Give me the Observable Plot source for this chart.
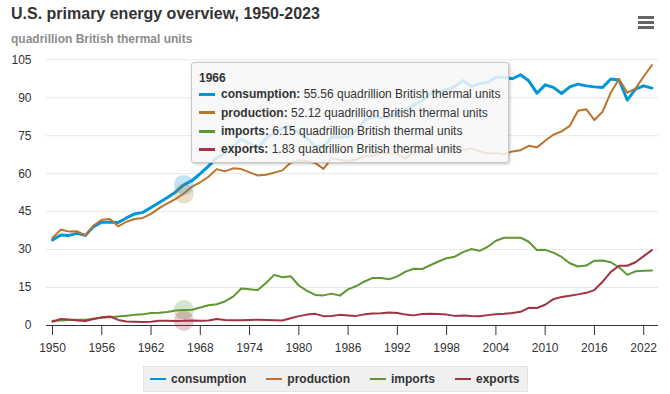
<!DOCTYPE html>
<html>
<head>
<meta charset="utf-8">
<script src="https://cdn.jsdelivr.net/npm/d3@7"></script>
<script src="https://cdn.jsdelivr.net/npm/@observablehq/plot@0.6"></script>
<style>
  body { margin: 0; background: #fff; }
  #wrap { position: relative; width: 670px; height: 394px; overflow: hidden; font-family: "Liberation Sans", Arial, sans-serif; color: #333; }
  #title { position: absolute; left: 11px; top: 5.5px; font-size: 16px; line-height: 16px; font-weight: bold; color: #333; white-space: nowrap; }
  #subtitle { position: absolute; left: 11px; top: 33px; font-size: 12px; line-height: 12px; font-weight: bold; color: #8c8c8c; white-space: nowrap; }
  #chart { position: absolute; left: 0; top: 50px; }
  #menu { position: absolute; left: 638px; top: 16px; width: 16px; }
  #menu div { height: 2.6px; background: #666; margin-bottom: 2.6px; }
  #legend { position: absolute; left: 143px; top: 366px; height: 26px; box-sizing: border-box; background: #f0f0f0; border: 1px solid #e4e4e4; display: flex; align-items: center; padding: 0 8px 0 6px; font-size: 12px; font-weight: bold; color: #333; white-space: nowrap; }
  .item { display: flex; align-items: center; margin-right: 20px; }
  .item:last-child { margin-right: 0; }
  .sw { width: 16px; height: 2px; margin-right: 5px; }
  #tooltip { position: absolute; left: 191px; top: 62px; width: 318px; height: 101px; box-sizing: border-box; background: rgba(247,247,247,0.85); border: 1px solid #c9c9c9; border-radius: 3px; box-shadow: 1px 1px 3px rgba(0,0,0,0.25); font-size: 12px; color: #333; }
  .tl { position: absolute; left: 7px; line-height: 18px; white-space: nowrap; display: flex; align-items: center; }
  .tsw { width: 16px; height: 3px; margin-right: 6px; }
</style>
</head>
<body>
<div id="wrap">
  <div id="title"></div>
  <div id="subtitle"></div>
  <div id="menu"><div></div><div></div><div></div></div>
  <div id="chart"></div>
  <div id="legend"></div>
  <div id="tooltip"></div>
</div>
<script>
const titleText = "U.S. primary energy overview, 1950-2023";
const unitText = "quadrillion British thermal units";

const years = d3.range(1950, 2024);
const seriesNames = ["consumption", "production", "imports", "exports"];
const seriesColors = ["#0096d7", "#bd732a", "#5d9732", "#a33340"];
const seriesWidths = [3, 2, 2, 2];

const consumption = [33.8, 35.8, 35.6, 36.4, 35.6, 39.1, 40.8, 40.8, 40.7, 42.5,
  44.1, 44.7, 46.6, 48.6, 50.6, 52.8, 55.56, 57.3, 60.0, 63.0,
  66.3, 68.0, 71.0, 73.7, 72.0, 70.0, 74.0, 76.2, 77.9, 78.8,
  76.0, 74.0, 70.8, 70.5, 74.5, 74.4, 74.6, 77.3, 81.0, 82.7,
  82.2, 82.3, 83.8, 85.3, 87.1, 88.8, 91.6, 92.2, 93.0, 94.5,
  96.8, 94.5, 95.6, 96.0, 98.1, 98.1, 97.5, 99.1, 96.7, 91.8,
  95.1, 94.1, 91.7, 94.3, 95.4, 94.7, 94.3, 94.1, 97.4, 97.0,
  89.1, 93.4, 94.7, 93.8];
const production = [34.6, 37.9, 37.1, 37.2, 35.6, 39.5, 41.8, 42.1, 39.2, 41.0,
  42.1, 42.5, 44.1, 46.4, 48.3, 50.0, 52.12, 54.9, 56.6, 58.8,
  61.8, 60.9, 62.1, 61.8, 60.5, 59.3, 59.6, 60.4, 61.3, 64.3,
  65.3, 65.0, 64.2, 61.9, 66.1, 65.5, 65.1, 65.6, 67.0, 67.0,
  68.4, 68.1, 67.8, 66.1, 68.6, 68.8, 69.9, 69.8, 70.5, 69.4,
  69.4, 70.0, 68.8, 68.0, 68.2, 67.6, 68.8, 69.3, 71.0, 70.4,
  73.0, 75.4, 76.7, 78.9, 84.9, 85.5, 81.2, 84.5, 92.1, 97.4,
  92.0, 93.6, 98.4, 102.9];
const imports = [1.9, 2.0, 2.2, 2.3, 2.3, 2.7, 3.1, 3.3, 3.6, 3.9,
  4.2, 4.4, 4.9, 5.0, 5.3, 5.9, 6.15, 6.2, 7.1, 8.0,
  8.4, 9.5, 11.4, 14.6, 14.3, 14.0, 16.8, 20.0, 19.1, 19.5,
  15.8, 13.7, 12.1, 11.9, 12.6, 11.8, 14.3, 15.6, 17.4, 18.8,
  18.8, 18.3, 19.4, 21.3, 22.4, 22.3, 23.8, 25.3, 26.6, 27.2,
  29.0, 30.2, 29.5, 31.1, 33.5, 34.7, 34.7, 34.7, 33.1, 29.8,
  29.9, 28.8, 27.1, 24.6, 23.3, 23.7, 25.6, 25.7, 25.0, 23.0,
  20.0, 21.4, 21.6, 21.7];
const exports = [1.5, 2.6, 2.4, 2.0, 1.8, 2.6, 3.3, 3.6, 2.2, 1.6,
  1.5, 1.4, 1.5, 1.9, 1.9, 1.8, 1.83, 2.0, 1.9, 2.0,
  2.6, 2.2, 2.1, 2.1, 2.2, 2.3, 2.2, 2.1, 2.0, 2.9,
  3.7, 4.3, 4.6, 3.7, 3.8, 4.2, 4.0, 3.8, 4.4, 4.7,
  4.8, 5.1, 4.9, 4.3, 4.0, 4.5, 4.6, 4.5, 4.3, 3.8,
  4.0, 3.8, 3.7, 4.1, 4.4, 4.6, 4.9, 5.4, 7.0, 6.9,
  8.2, 10.4, 11.3, 11.8, 12.3, 12.9, 14.0, 17.3, 21.2, 23.6,
  23.6, 25.0, 27.4, 29.8];

const xTicks = [1950, 1956, 1962, 1968, 1974, 1980, 1986, 1992, 1998, 2004, 2010, 2016, 2022];
const yTicks = [0, 15, 30, 45, 60, 75, 90, 105];
const hoverYear = 1966;

const seriesValues = [consumption, production, imports, exports];
const series = seriesNames.map((name, i) => ({
  name, color: seriesColors[i], width: seriesWidths[i],
  rows: years.map((year, j) => ({year, value: seriesValues[i][j], name}))
}));
const hi = years.indexOf(hoverYear);
const halo = series.map(s => s.rows[hi]);

document.getElementById("title").textContent = titleText;
document.getElementById("subtitle").textContent = unitText;

const chart = Plot.plot({
  width: 670,
  height: 316,
  marginLeft: 46,
  marginRight: 12,
  marginTop: 9.3,
  marginBottom: 41,
  style: {fontFamily: "'Liberation Sans', Arial, sans-serif", fontSize: "12px", color: "#333", background: "transparent"},
  x: {domain: [1950, 2023], insetLeft: 6, insetRight: 6.6},
  y: {domain: [0, 105]},
  color: {domain: seriesNames, range: seriesColors},
  marks: [
    Plot.ruleY(yTicks.filter(d => d > 0), {stroke: "#e6e6e6", strokeWidth: 1}),
    Plot.axisY({ticks: yTicks, tickSize: 0, tickPadding: 15, label: null, fill: "#333"}),
    Plot.axisX({ticks: xTicks, tickSize: 10, tickPadding: 8, tickFormat: d => String(d), label: null, stroke: "#333", fill: "#333"}),
    Plot.ruleY([0], {stroke: "#333", strokeWidth: 1}),
    ...series.map(s => Plot.line(s.rows, {x: "year", y: "value", stroke: s.color, strokeWidth: s.width, strokeLinejoin: "round", strokeLinecap: "round"})),
    Plot.dot(halo, {x: "year", y: "value", r: 10, fill: "name", fillOpacity: 0.25, stroke: null})
  ]
});
document.getElementById("chart").appendChild(chart);

// legend
const legend = document.getElementById("legend");
series.forEach(s => {
  const it = document.createElement("div");
  it.className = "item";
  it.innerHTML = `<div class="sw" style="background:${s.color}"></div><span>${s.name}</span>`;
  legend.appendChild(it);
});

// tooltip
const tip = document.getElementById("tooltip");
const yl = document.createElement("div");
yl.className = "tl";
yl.style.top = "5.5px";
yl.style.fontWeight = "bold";
yl.textContent = String(hoverYear);
tip.appendChild(yl);
series.forEach((s, i) => {
  const l = document.createElement("div");
  l.className = "tl";
  l.style.top = (22.3 + i * 18.35) + "px";
  l.innerHTML = `<div class="tsw" style="background:${s.color}"></div><b>${s.name}:</b>&nbsp;${s.rows[hi].value.toFixed(2)} ${unitText}`;
  tip.appendChild(l);
});
</script>
</body>
</html>
